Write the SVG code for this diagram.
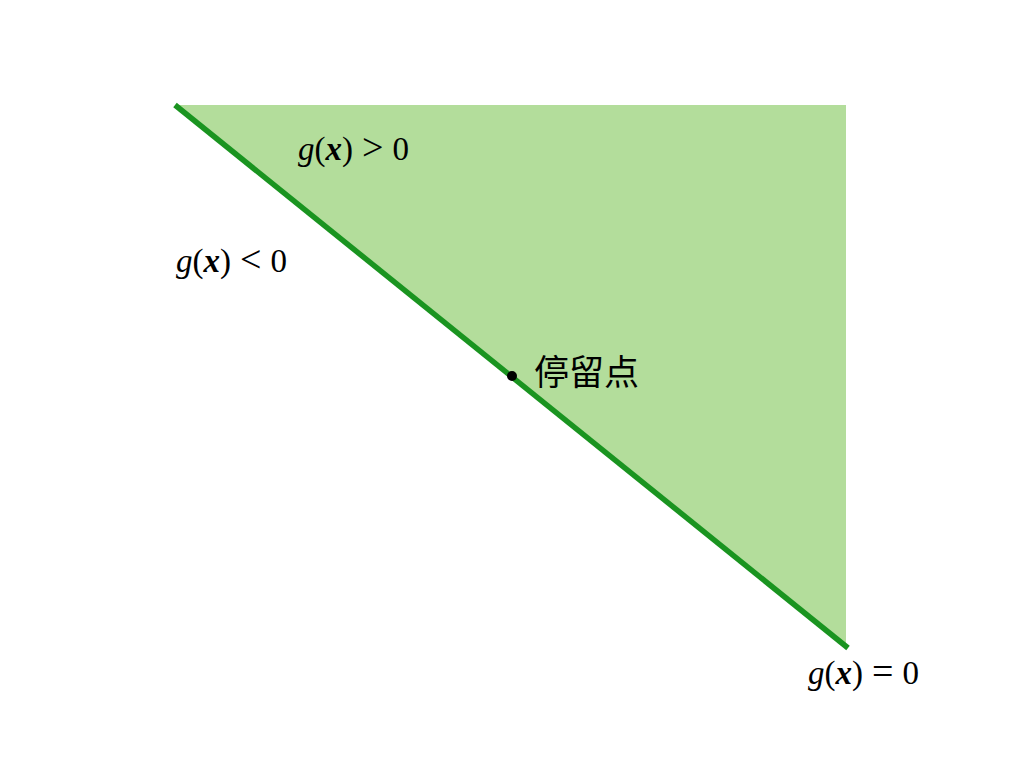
<svg xmlns="http://www.w3.org/2000/svg" width="1024" height="768" viewBox="0 0 1024 768">
<style>
.m{font-family:"Liberation Serif","Times New Roman",serif;font-size:33px;fill:#000}
.i{font-style:italic}
.b{font-weight:bold;font-style:italic}
.op{font-size:38px}
.cjk{font-family:"Noto Sans CJK SC","Noto Sans CJK JP",sans-serif;font-size:35px;fill:#000}
</style>
<rect width="1024" height="768" fill="#fff"/>
<g id="region">
<polygon points="175,105 846,105 846,648" fill="#b3dd9b"/>
</g>
<g id="connectors">
<line x1="175" y1="105" x2="848" y2="648" stroke="#1a9420" stroke-width="5.5"/>
</g>
<g id="point">
<circle cx="512" cy="376" r="5" fill="#000"/>
<text class="cjk" x="534" y="385">停留点</text>
</g>
<g id="labels">
<text class="m" x="298" y="160"><tspan class="i">g</tspan>(<tspan class="b">x</tspan>)<tspan class="op" dx="9">&gt;</tspan><tspan dx="9">0</tspan></text>
<text class="m" x="176" y="272"><tspan class="i">g</tspan>(<tspan class="b">x</tspan>)<tspan class="op" dx="9">&lt;</tspan><tspan dx="9">0</tspan></text>
<text class="m" x="808" y="684"><tspan class="i">g</tspan>(<tspan class="b">x</tspan>)<tspan class="op" dx="9">=</tspan><tspan dx="9">0</tspan></text>
</g>
</svg>
